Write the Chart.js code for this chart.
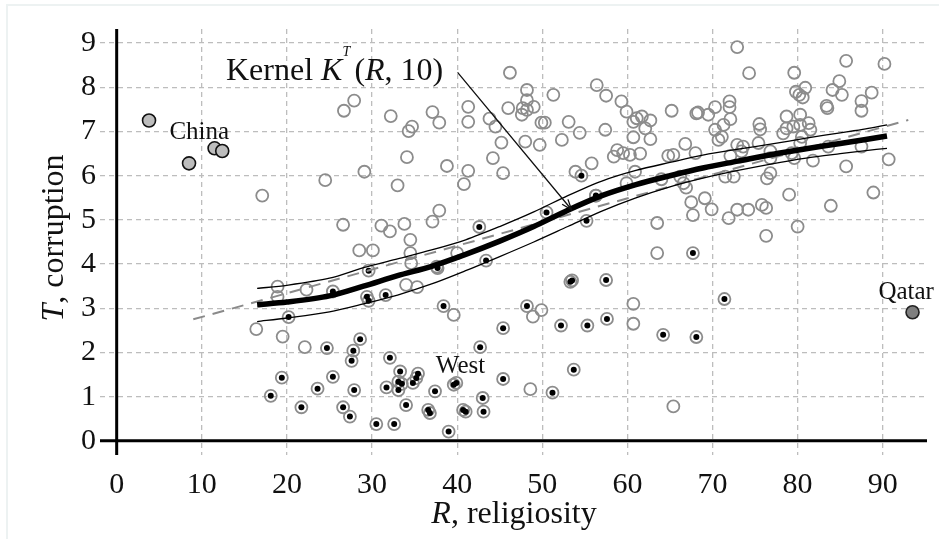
<!DOCTYPE html>
<html>
<head>
<meta charset="utf-8">
<script src="https://cdn.jsdelivr.net/npm/chart.js@4.4.1/dist/chart.umd.min.js"></script>
<style>
html,body{margin:0;padding:0;background:#fff;}
#wrap{position:relative;width:939px;height:539px;overflow:hidden;}
#frame{position:absolute;left:6px;top:4px;width:940px;height:540px;border:2px solid #edf2f2;box-sizing:border-box;}
canvas{position:relative;}
</style>
</head>
<body>
<div id="wrap"><div id="frame"></div><canvas id="myChart"></canvas></div>
<script>
var FONT = '"Liberation Serif", "Times New Roman", serif';

// axis ticks
var xTicks = [0, 10, 20, 30, 40, 50, 60, 70, 80, 90];
var yTicks = [0, 1, 2, 3, 4, 5, 6, 7, 8, 9];

// other countries (open circles)
var otherR = [17.1,16.4,19.5,22.1,18.9,18.9,22.3,24.5,26.7,27.9,29.1,26.6,28.5,30.1,31.1,32.1,32.2,33.0,33.8,34.1,
  34.3,34.7,34.5,34.5,34.6,34.0,35.3,37.1,37.9,37.1,37.9,37.6,38.8,40.0,39.6,41.3,41.3,41.3,40.8,43.8,
  44.5,44.2,45.2,45.4,46.2,46.0,47.6,47.7,48.2,49.0,48.2,48.2,48.0,49.7,49.9,50.3,51.3,52.3,53.1,54.4,
  53.9,55.8,56.3,56.4,57.5,57.4,58.4,58.8,59.3,59.9,60.7,61.1,61.7,62.7,62.1,60.7,62.7,60.3,61.5,59.5,
  60.9,59.9,64.0,66.2,64.8,65.4,66.8,68.0,65.2,68.1,66.6,66.9,67.5,67.7,69.1,69.9,63.5,63.5,60.7,60.7,
  49.9,48.9,48.6,65.4,68.3,69.5,70.3,72.0,72.0,72.1,72.9,74.3,75.5,75.6,78.7,80.3,81.3,81.5,80.3,79.5,
  78.3,78.7,80.5,79.6,80.9,79.8,80.2,80.6,85.7,90.2,84.9,84.1,85.2,88.7,87.5,87.5,83.4,83.5,70.3,70.7,
  71.3,71.1,72.9,73.6,73.4,75.4,76.8,72.1,79.3,80.3,83.6,87.5,90.7,85.7,81.8,79.6,76.8,71.5,72.5,76.4,
  76.8,72.9,71.9,74.2,75.8,76.3,79.0,83.9,88.9,80.0,76.3];
var otherT = [5.55,2.53,2.36,2.12,3.49,3.26,3.42,5.90,7.47,7.70,6.09,4.89,4.31,4.31,4.87,4.74,7.35,5.78,4.91,6.42,
  7.01,7.11,4.55,4.25,4.02,3.53,3.48,7.44,7.20,4.96,5.21,3.94,6.22,4.25,2.85,7.56,7.22,6.11,5.81,7.29,
  7.11,6.40,6.75,6.06,8.33,7.53,7.38,7.53,7.49,7.56,7.94,7.71,6.77,6.70,7.20,7.20,7.83,6.81,7.22,6.97,
  6.09,6.28,5.55,8.05,7.81,7.04,6.43,6.58,7.68,7.45,7.22,7.30,7.34,7.25,7.07,6.87,6.83,6.47,6.50,6.51,
  6.09,5.83,5.92,5.98,6.45,6.47,6.72,6.51,7.47,7.41,5.83,5.73,5.40,5.11,5.49,5.24,4.93,4.25,3.10,2.65,
  2.96,2.81,1.17,0.78,7.43,7.38,7.55,7.68,7.55,7.28,8.91,8.32,7.17,7.05,7.34,7.38,7.19,7.04,7.15,7.11,
  6.96,7.07,6.88,8.33,7.99,7.90,7.83,7.77,8.60,8.53,8.14,7.94,7.83,7.88,7.69,7.47,7.58,7.53,7.04,6.81,
  7.15,6.88,6.70,6.66,6.55,6.74,6.55,6.45,6.51,6.74,6.66,6.66,6.37,6.21,6.34,6.40,6.40,5.98,5.98,5.94,
  6.06,5.23,5.04,5.23,5.34,5.27,5.57,5.32,5.62,4.85,4.64];

// West (ringed dots)
var westR = [20.2,24.7,19.4,18.1,21.7,23.6,25.4,25.4,29.6,29.4,29.6,31.6,37.7,43.4,38.4,45.4,48.2,28.6,27.8,27.6,
  27.9,26.6,27.4,32.1,33.3,33.1,33.5,31.7,33.1,35.4,35.2,34.8,34.0,37.4,36.6,36.8,30.5,32.6,39.6,39.9,
  39.0,40.7,41.0,42.7,43.0,43.1,45.4,53.3,53.5,57.5,67.7,71.4,52.2,55.3,57.6,64.2,68.1,53.7,51.2,54.6,
  56.3,50.5,55.2,42.6];
var westT = [2.80,2.10,1.43,1.02,0.76,1.18,1.45,3.38,3.85,3.26,3.17,3.30,3.91,4.08,3.05,2.55,3.05,2.30,2.04,1.81,
  1.15,0.76,0.55,1.88,1.57,1.34,1.29,1.21,1.15,1.52,1.42,1.31,0.81,1.12,0.70,0.63,0.38,0.38,1.27,1.31,
  0.21,0.70,0.66,2.12,0.97,0.66,1.40,3.60,3.63,3.64,4.25,3.21,2.61,2.61,2.76,2.40,2.35,1.61,1.09,6.00,
  5.55,5.17,4.98,4.84];

var chinaR = [3.8, 8.5, 11.5, 12.4];
var chinaT = [7.25, 6.28, 6.62, 6.56];
var qatarR = [93.5];
var qatarT = [2.91];

// kernel K^T(R,10) and its band
var kernelR = [16.5, 20, 25, 29, 33, 37, 41, 45, 49, 53, 57, 61, 65, 69, 73, 77, 81, 85, 88, 90.5];
var kernelT = [3.08, 3.14, 3.28, 3.50, 3.74, 3.95, 4.22, 4.52, 4.85, 5.22, 5.55, 5.80, 6.00, 6.18, 6.33, 6.48, 6.61, 6.73, 6.82, 6.90];
var upperT  = [3.45, 3.52, 3.68, 3.92, 4.12, 4.32, 4.55, 4.85, 5.18, 5.55, 5.88, 6.12, 6.30, 6.47, 6.60, 6.72, 6.85, 6.97, 7.06, 7.15];
var lowerT  = [2.70, 2.78, 2.92, 3.10, 3.30, 3.55, 3.85, 4.17, 4.50, 4.85, 5.20, 5.50, 5.75, 5.95, 6.12, 6.27, 6.40, 6.50, 6.57, 6.62];

// linear fit
var fitR = [9, 93];
var fitT = [2.75, 7.26];

function pts(xs, ys) {
  return xs.map(function (x, i) { return {x: x, y: ys[i]}; });
}

function drawRich(ctx, parts, x, y, size, align) {
  var w = 0;
  parts.forEach(function (p) {
    ctx.font = (p.it ? 'italic ' : '') + size + 'px ' + FONT;
    p.w = ctx.measureText(p.t).width;
    w += p.w;
  });
  var cx = align === 'center' ? x - w / 2 : x;
  ctx.textAlign = 'left';
  parts.forEach(function (p) {
    ctx.font = (p.it ? 'italic ' : '') + size + 'px ' + FONT;
    ctx.fillText(p.t, cx, y);
    cx += p.w;
  });
}

var extras = {
  id: 'extras',
  beforeDatasetsDraw: function (chart) {
    var ctx = chart.ctx, xs = chart.scales.x, ys = chart.scales.y, a = chart.chartArea;
    ctx.save();
    ctx.strokeStyle = '#000';
    ctx.lineWidth = 3;
    ctx.beginPath();
    ctx.moveTo(a.left, ys.getPixelForValue(0));
    ctx.lineTo(a.right, ys.getPixelForValue(0));
    ctx.moveTo(xs.getPixelForValue(0), a.top);
    ctx.lineTo(xs.getPixelForValue(0), a.bottom);
    ctx.stroke();
    ctx.restore();
  },
  afterDatasetsDraw: function (chart) {
    var ctx = chart.ctx, xs = chart.scales.x, ys = chart.scales.y;
    ctx.save();
    ctx.fillStyle = '#111';
    ctx.textBaseline = 'middle';
    ctx.textAlign = 'center';
    ctx.font = '25px ' + FONT;
    ctx.fillText('China', xs.getPixelForValue(9.7), ys.getPixelForValue(6.97));
    ctx.fillText('West', xs.getPixelForValue(40.4), ys.getPixelForValue(1.68));
    ctx.fillText('Qatar', xs.getPixelForValue(92.75), ys.getPixelForValue(3.35));

    // kernel label
    ctx.textBaseline = 'alphabetic';
    var kx = xs.getPixelForValue(12.84), ky = ys.getPixelForValue(8.17);
    ctx.textAlign = 'left';
    ctx.font = '32px ' + FONT;
    ctx.fillText('Kernel ', kx, ky);
    kx += ctx.measureText('Kernel ').width;
    ctx.font = 'italic 32px ' + FONT;
    ctx.fillText('K', kx, ky);
    kx += ctx.measureText('K').width;
    ctx.font = 'italic 14px ' + FONT;
    ctx.fillText('T', kx, ky - 24);
    kx += 12;
    drawRich(ctx, [{t: '('}, {t: 'R', it: true}, {t: ', 10)'}], kx, ky, 32, 'left');

    // arrow
    var x1 = xs.getPixelForValue(40.05), y1 = ys.getPixelForValue(8.34);
    var x2 = xs.getPixelForValue(53.45), y2 = ys.getPixelForValue(5.23);
    var ang = Math.atan2(y2 - y1, x2 - x1);
    ctx.strokeStyle = '#111';
    ctx.lineWidth = 1.3;
    ctx.beginPath();
    ctx.moveTo(x1, y1);
    ctx.lineTo(x2, y2);
    ctx.moveTo(x2 - 11 * Math.cos(ang - 0.35), y2 - 11 * Math.sin(ang - 0.35));
    ctx.lineTo(x2, y2);
    ctx.lineTo(x2 - 11 * Math.cos(ang + 0.35), y2 - 11 * Math.sin(ang + 0.35));
    ctx.stroke();

    // axis titles
    drawRich(ctx, [{t: 'R', it: true}, {t: ', religiosity'}], 514, 523, 32, 'center');
    ctx.translate(63, 238);
    ctx.rotate(-Math.PI / 2);
    drawRich(ctx, [{t: 'T', it: true}, {t: ', corruption'}], 0, 0, 32, 'center');
    ctx.restore();
  }
};

var gridColor = function (c) { return c.tick && c.tick.value === 0 ? 'rgba(0,0,0,0)' : '#bdbdbd'; };

var myChart = new Chart('myChart', {
  type: 'scatter',
  data: {
    datasets: [
      {data: pts(kernelR, kernelT), showLine: true, borderColor: '#000', borderWidth: 5.5, pointRadius: 0, tension: 0.3, order: 0},
      {data: pts(kernelR, upperT), showLine: true, borderColor: '#000', borderWidth: 1.3, pointRadius: 0, tension: 0.3, order: 0},
      {data: pts(kernelR, lowerT), showLine: true, borderColor: '#000', borderWidth: 1.3, pointRadius: 0, tension: 0.3, order: 0},
      {data: pts(fitR, fitT), showLine: true, borderColor: '#8a8a8a', borderWidth: 2, borderDash: [12, 8], pointRadius: 0, order: 1},
      {data: pts(chinaR, chinaT), pointRadius: 6.5, backgroundColor: '#bdbdbd', borderColor: '#111', borderWidth: 1.6, order: 2},
      {data: pts(qatarR, qatarT), pointRadius: 6.5, backgroundColor: '#7f7f7f', borderColor: '#222', borderWidth: 1.6, order: 2},
      {data: pts(westR, westT), pointRadius: 3, backgroundColor: '#000', borderWidth: 0, order: 3},
      {data: pts(westR, westT), pointRadius: 6, backgroundColor: 'rgba(0,0,0,0)', borderColor: '#8c8c8c', borderWidth: 1.8, order: 4},
      {data: pts(otherR, otherT), pointRadius: 6, backgroundColor: 'rgba(0,0,0,0)', borderColor: '#8c8c8c', borderWidth: 1.8, order: 5}
    ]
  },
  options: {
    responsive: true,
    maintainAspectRatio: false,
    animation: false,
    events: [],
    layout: {padding: {left: 0, right: 12, top: 29, bottom: 0}},
    plugins: {legend: {display: false}, tooltip: {enabled: false}},
    scales: {
      x: {
        type: 'linear', min: -1.96, max: 95.2,
        afterBuildTicks: function (s) { s.ticks = xTicks.map(function (v) { return {value: v}; }); },
        afterFit: function (s) { s.height = 84; },
        grid: {color: gridColor, lineWidth: 1.3, drawTicks: false},
        border: {display: false, dash: [5, 4]},
        ticks: {font: {family: FONT, size: 30}, color: '#111', padding: 12, maxRotation: 0, autoSkip: false}
      },
      y: {
        type: 'linear', min: -0.32, max: 9.32,
        afterBuildTicks: function (s) { s.ticks = yTicks.map(function (v) { return {value: v}; }); },
        afterFit: function (s) { s.width = 100; },
        grid: {color: gridColor, lineWidth: 1.3, drawTicks: false},
        border: {display: false, dash: [5, 4]},
        ticks: {font: {family: FONT, size: 30}, color: '#111', padding: 4, autoSkip: false}
      }
    }
  },
  plugins: [extras]
});
</script>
</body>
</html>
